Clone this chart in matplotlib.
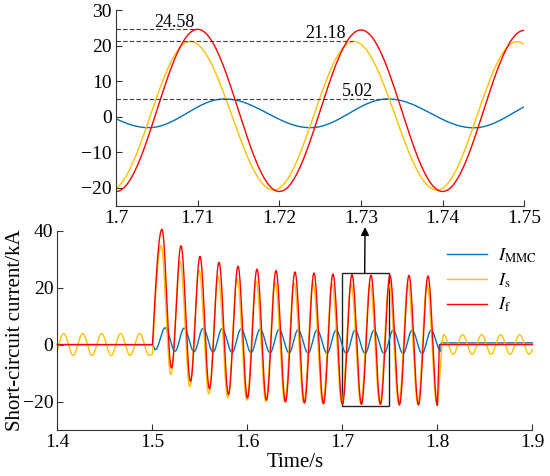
import numpy as np
import matplotlib
matplotlib.use("Agg")
import matplotlib.pyplot as plt
from matplotlib.patches import Rectangle

plt.rcParams['font.family'] = ['Liberation Serif', 'DejaVu Serif']
plt.rcParams['mathtext.fontset'] = 'stix'

# ---- waveform extrema (time in s, current in kA) ----
# I_f : fault current
red_peak_t = [1.510, 1.530, 1.550, 1.570, 1.590, 1.610, 1.630, 1.650,
              1.670, 1.690, 1.710, 1.730, 1.750, 1.770, 1.790]
red_peak_v = [40.5, 34.7, 31.0, 28.9, 27.5, 26.5, 26.0, 25.5,
              25.1, 24.8, 24.58, 24.4, 24.3, 24.3, 24.1]
red_trough_t = [1.520, 1.540, 1.560, 1.580, 1.600, 1.620, 1.640, 1.660,
                1.680, 1.700, 1.720, 1.740, 1.760, 1.780, 1.800]
red_trough_v = [-8.2, -12.9, -15.5, -17.5, -18.7, -19.5, -20.1, -20.5,
                -20.8, -21.0, -21.0, -21.0, -21.1, -21.2, -21.3]
red_off_t = 1.802

# I_s : source current
ys_pre_peak_t = [1.4065, 1.4265, 1.4465, 1.4665, 1.4865]
ys_pre_peak_v = [3.9, 3.9, 3.9, 3.9, 3.9]
ys_pre_trough_t = [1.3965, 1.4165, 1.4365, 1.4565, 1.4765, 1.4965]
ys_pre_trough_v = [-3.8, -3.8, -3.8, -3.8, -3.8, -3.8]
ys_onset = (1.500, -3.5)
ys_peak_t = [1.5091, 1.5291, 1.5491, 1.5691, 1.5891, 1.6091, 1.6291, 1.6491,
             1.6691, 1.6891, 1.7091, 1.7291, 1.7491, 1.7691, 1.7891]
ys_peak_v = [34.7, 29.2, 26.1, 24.0, 23.0, 22.2, 21.9, 21.6,
             21.4, 21.25, 21.18, 21.18, 21.1, 21.1, 21.0]
ys_trough_t = [1.5193, 1.5393, 1.5593, 1.5793, 1.5993, 1.6193, 1.6393, 1.6593,
               1.6793, 1.6993, 1.7193, 1.7393, 1.7593, 1.7793, 1.7993]
ys_trough_v = [-10.5, -14.8, -17.3, -18.7, -19.5, -19.9, -20.2, -20.4,
               -20.5, -20.6, -20.6, -20.6, -20.7, -20.7, -20.8]
ys_post_peak_t = [1.8065, 1.8265, 1.8465, 1.8665, 1.8865, 1.9065]
ys_post_peak_v = [3.5, 3.5, 3.5, 3.5, 3.5, 3.5]
ys_post_trough_t = [1.8165, 1.8365, 1.8565, 1.8765, 1.8965]
ys_post_trough_v = [-3.4, -3.4, -3.4, -3.4, -3.4]

# I_MMC : converter current
mmc_peak_t = [1.5133, 1.5333, 1.5533, 1.5733, 1.5933, 1.6133, 1.6333, 1.6533,
              1.6733, 1.6933, 1.7133, 1.7333, 1.7533, 1.7733, 1.7933]
mmc_peak_v = [5.9, 5.8, 5.7, 5.6, 5.5, 5.4, 5.3, 5.2,
              5.1, 5.05, 5.02, 5.02, 5.0, 5.0, 5.0]
mmc_trough_t = [1.5030, 1.5238, 1.5438, 1.5638, 1.5838, 1.6038, 1.6238, 1.6438,
                1.6638, 1.6838, 1.7040, 1.7238, 1.7438, 1.7638, 1.7838, 1.8035]
mmc_trough_v = [-1.8, -2.3, -2.5, -2.6, -2.7, -2.8, -2.85, -2.9,
                -2.95, -3.0, -3.06, -3.06, -3.1, -3.1, -3.1, -2.3]
mmc_off = (1.804, 0.6)

labels = [r'$I_{\mathrm{MMC}}$', r'$I_{\mathrm{s}}$', r'$I_{\mathrm{f}}$']
colors = ['#0072BD', '#FFC000', '#FF0000']

peak_marks = [24.58, 21.18, 5.02]
peak_mark_end = [1.7097, 1.7290, 1.7333]


def merge(t_a, v_a, t_b, v_b):
    pairs = sorted(zip(list(t_a) + list(t_b), list(v_a) + list(v_b)))
    return [p[0] for p in pairs], [p[1] for p in pairs]


def build(kt, kv, shapes):
    ts, vs = [], []
    for i in range(len(kt) - 1):
        u = np.linspace(0, 1, 60)
        if shapes[i] == 'c':
            w = (1 - np.cos(np.pi * u)) / 2
        elif shapes[i] == 's':
            w = np.sin(np.pi / 2 * u)
        else:
            w = u
        ts.append(kt[i] + (kt[i + 1] - kt[i]) * u)
        vs.append(kv[i] + (kv[i + 1] - kv[i]) * w)
    return np.concatenate(ts), np.concatenate(vs)


# I_f
t, v = merge(red_peak_t, red_peak_v, red_trough_t, red_trough_v)
kt = [1.4, 1.5] + t + [red_off_t, 1.9]
kv = [0.0, 0.0] + v + [0.0, 0.0]
red_t, red_v = build(kt, kv, 'ls' + 'c' * (len(t) - 1) + 'll')

# I_s
t1, v1 = merge(ys_pre_peak_t, ys_pre_peak_v, ys_pre_trough_t, ys_pre_trough_v)
t2, v2 = merge(ys_peak_t, ys_peak_v, ys_trough_t, ys_trough_v)
t3, v3 = merge(ys_post_peak_t, ys_post_peak_v, ys_post_trough_t, ys_post_trough_v)
kt = t1 + [ys_onset[0]] + t2 + t3
kv = v1 + [ys_onset[1]] + v2 + v3
shapes = 'c' * len(t1) + 's' + 'c' * (len(t2) + len(t3))
ys_t, ys_v = build(kt, kv, shapes)

# I_MMC
t, v = merge(mmc_peak_t, mmc_peak_v, mmc_trough_t, mmc_trough_v)
kt = [1.4, 1.5] + t + [mmc_off[0], 1.9]
kv = [0.0, 0.0] + v + [mmc_off[1], mmc_off[1]]
mmc_t, mmc_v = build(kt, kv, 'l' + 'c' * len(t) + 'll')

series = [(mmc_t, mmc_v), (ys_t, ys_v), (red_t, red_v)]

fig = plt.figure(figsize=(5.5, 4.76), dpi=100)
ax = fig.add_axes([0.1045, 0.0966, 0.8636, 0.4187])
axi = fig.add_axes([0.2109, 0.5678, 0.7424, 0.4111])

spine_c = '#333333'
for a in (ax, axi):
    for s in ('top', 'right'):
        a.spines[s].set_visible(False)
    for s in ('left', 'bottom'):
        a.spines[s].set_color(spine_c)
        a.spines[s].set_linewidth(0.8)
    a.tick_params(direction='in', length=4, width=0.8, color=spine_c,
                  labelsize=14, pad=3)

handles = []
for (tt, vv), c, lab in zip(series, colors, labels):
    m = (tt >= 1.4) & (tt <= 1.9)
    h, = ax.plot(tt[m], vv[m], color=c, lw=1.0, label=lab, clip_on=False)
    handles.append(h)
    mi = (tt >= 1.699) & (tt <= 1.751)
    axi.plot(tt[mi], vv[mi], color=c, lw=1.0)

ax.set_xlim(1.4, 1.9)
ax.set_ylim(-30, 40)
ax.set_xticks([1.4, 1.5, 1.6, 1.7, 1.8, 1.9])
ax.set_xticklabels(['1.4', '1.5', '1.6', '1.7', '1.8', '1.9'])
ax.set_yticks([-20, 0, 20, 40])
ax.set_xlabel('Time/s', fontsize=15, labelpad=1)
ax.set_ylabel('Short-circuit current/kA', fontsize=15, labelpad=-1.5)

ax.add_patch(Rectangle((1.7, -21.6), 0.0493, 46.8, fill=False,
                       edgecolor='#222222', lw=1.0))

ax.legend(handles=handles, loc='center left', bbox_to_anchor=(0.82, 0.75),
          frameon=False, fontsize=13, handlelength=2.2, handletextpad=0.6,
          labelspacing=0.35, borderaxespad=0, borderpad=0)

axi.set_xlim(1.7, 1.75)
axi.set_ylim(-25, 30)
axi.set_xticks([1.70, 1.71, 1.72, 1.73, 1.74, 1.75])
axi.set_xticklabels(['1.7', '1.71', '1.72', '1.73', '1.74', '1.75'])
axi.set_yticks([-20, -10, 0, 10, 20, 30])

for val, xe in zip(peak_marks, peak_mark_end):
    axi.plot([1.7, xe], [val, val], color='#404040', lw=0.8, dashes=(4, 2))
axi.text(1.7072, 24.1, '24.58', fontsize=13, ha='center', va='bottom')
axi.text(1.7257, 20.95, '21.18', fontsize=13, ha='center', va='bottom')
axi.text(1.7296, 4.8, '5.02', fontsize=13, ha='center', va='bottom')

ax.annotate('', xy=(1.7305, -31), xycoords=axi.transData,
            xytext=(1.7234, 25.2), textcoords=ax.transData,
            arrowprops=dict(arrowstyle='-|>', color='black', lw=1.0,
                            mutation_scale=12, shrinkA=0, shrinkB=0),
            annotation_clip=False)

fig.savefig('out.png', dpi=100)
